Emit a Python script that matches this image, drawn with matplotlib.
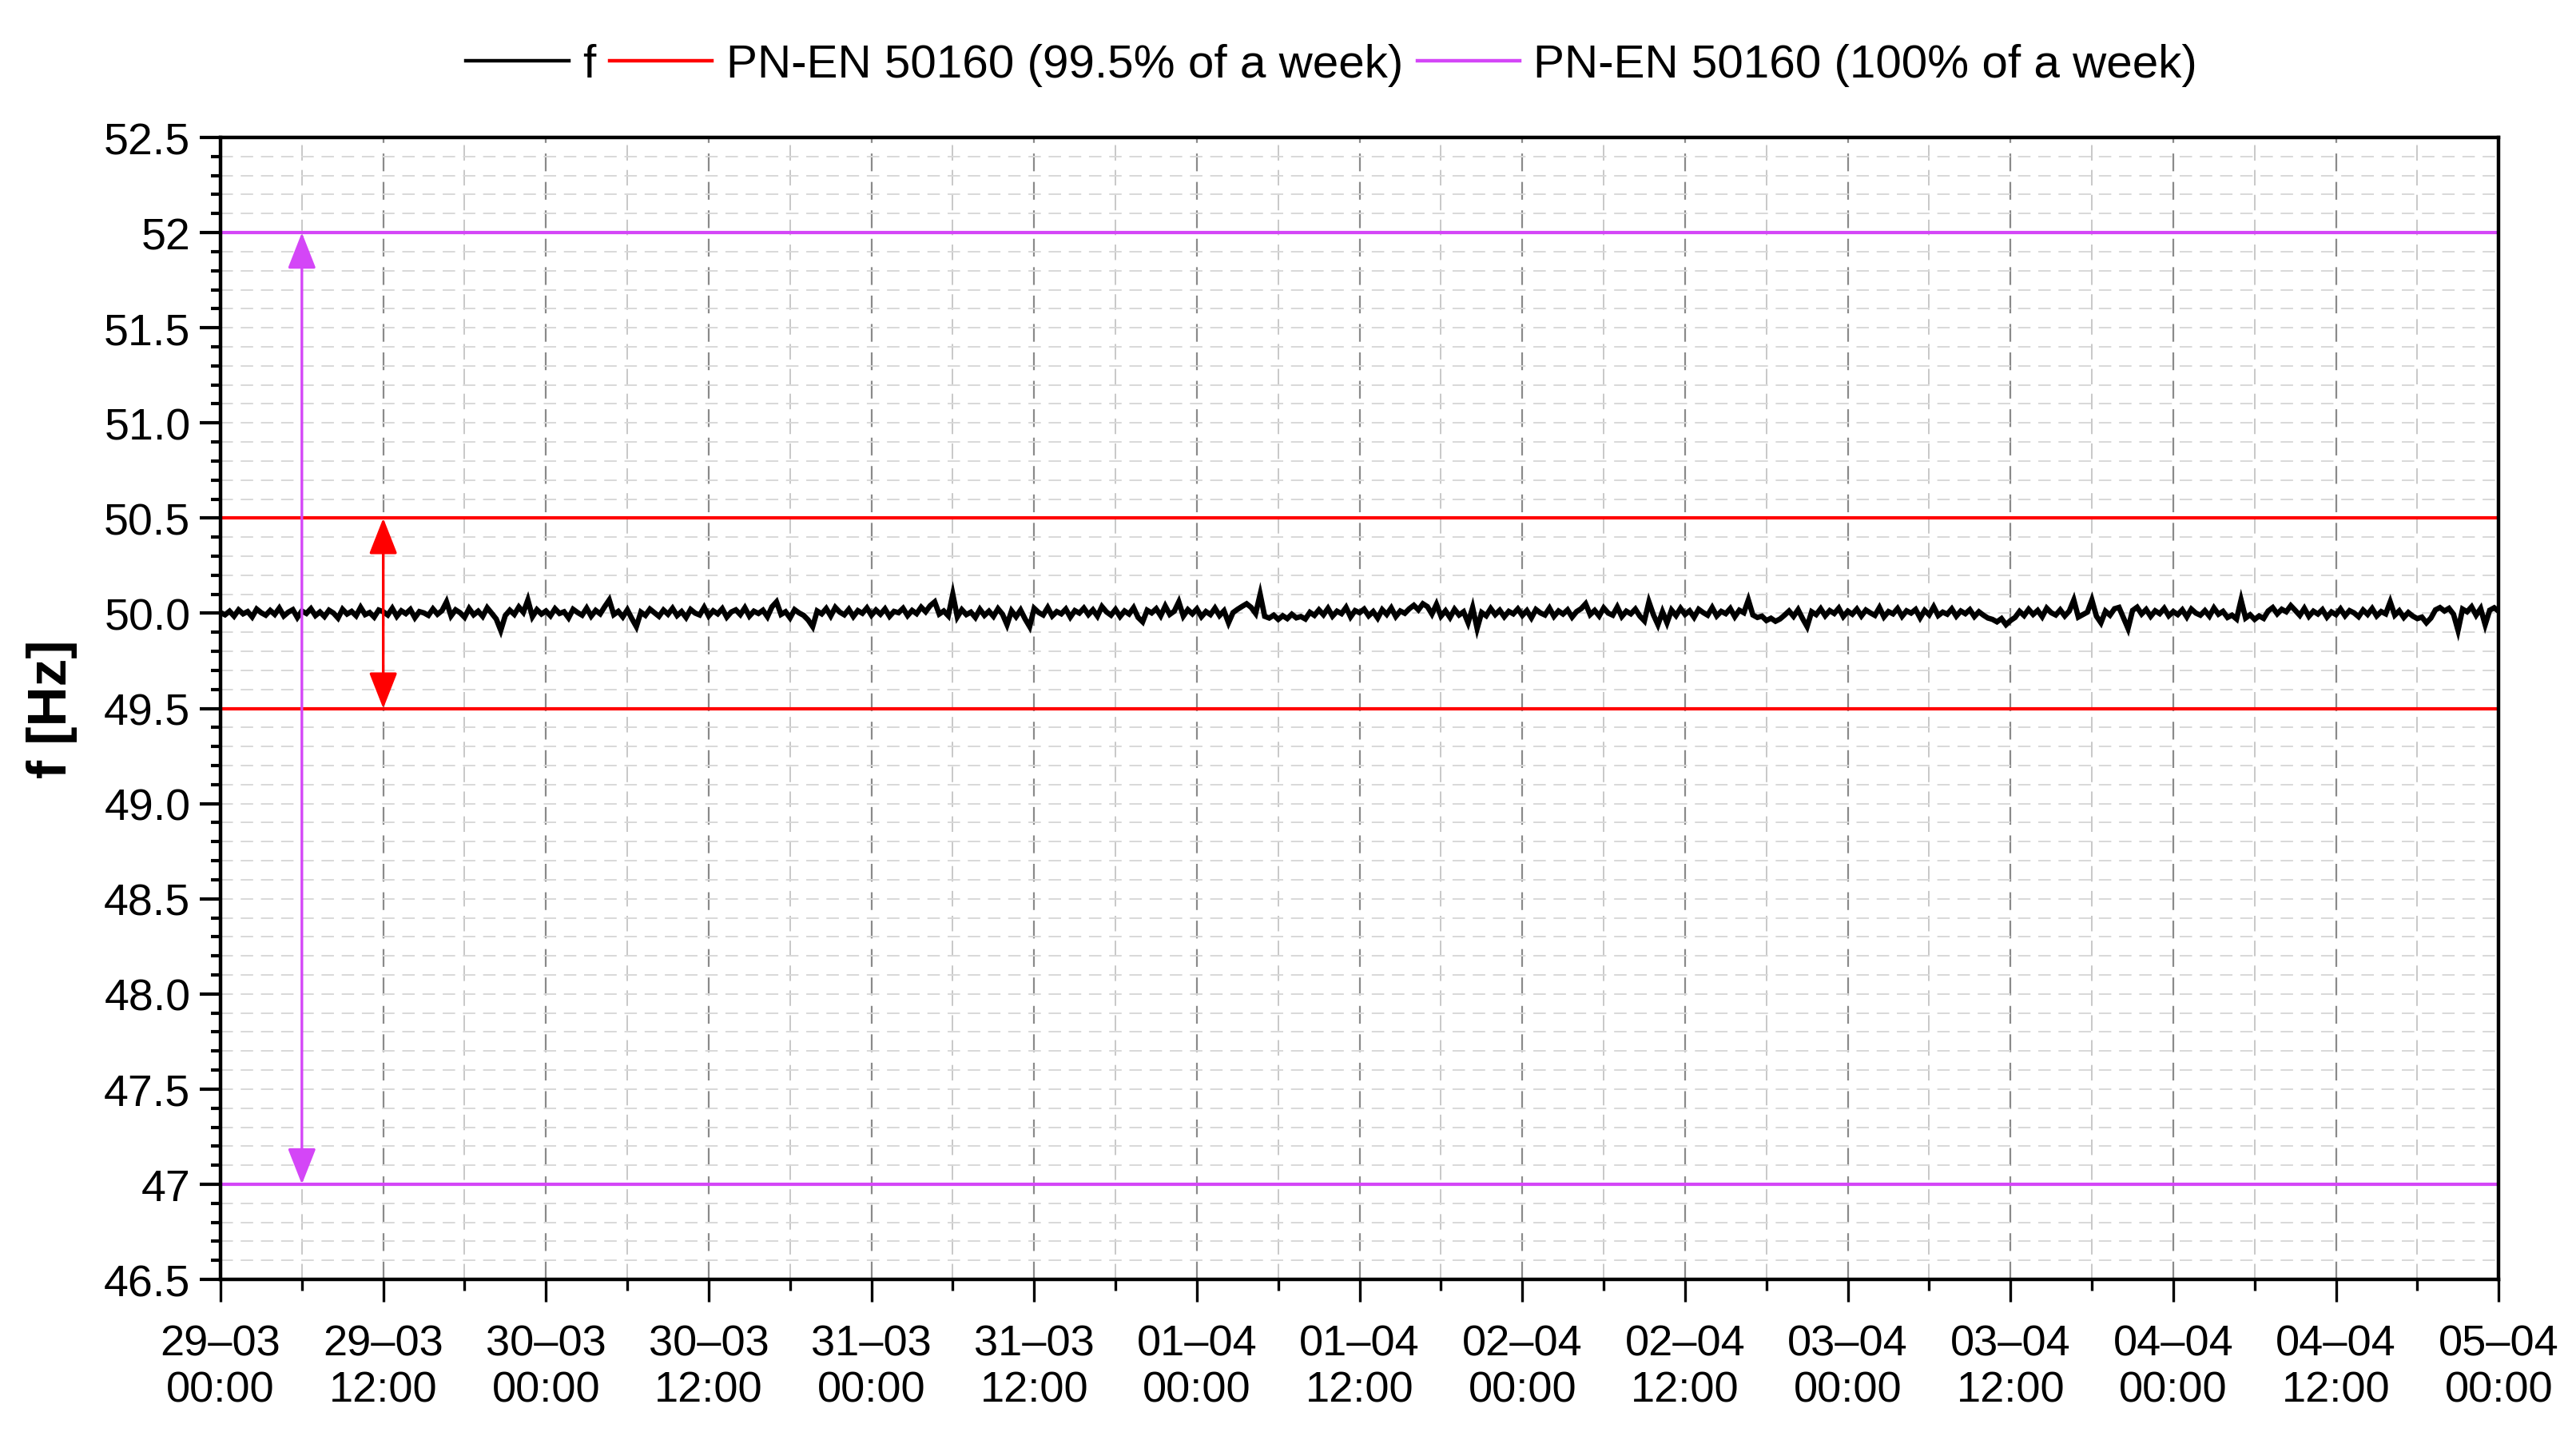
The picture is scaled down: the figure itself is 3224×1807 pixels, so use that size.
import numpy as np
import pandas as pd
import matplotlib
matplotlib.use("Agg")
import matplotlib.pyplot as plt
import matplotlib.dates as mdates
from matplotlib.ticker import FixedLocator, MultipleLocator

# ---------------- data ----------------
# grid-frequency readings, one every 20 minutes, 29-03 00:00 .. 05-04 00:00  [Hz]
freq_hz = [
    50.004, 49.992, 50.011, 49.985, 50.018, 49.997, 50.009, 49.981, 50.022, 50.003, 49.990, 50.015,
    49.994, 50.027, 49.986, 50.006, 50.019, 49.978, 50.012, 49.999, 50.024, 49.988, 50.007, 49.983,
    50.016, 50.001, 49.975, 50.021, 49.996, 50.010, 49.987, 50.031, 49.993, 50.004, 49.980, 50.017,
    50.008, 49.991, 50.026, 49.984, 50.013, 49.998, 50.020, 49.977, 50.009, 50.002, 49.989, 50.023,
    49.995, 50.014, 50.060, 49.986, 50.018, 50.003, 49.979, 50.025, 49.992, 50.011, 49.984, 50.029,
    50.000, 49.970, 49.910, 49.988, 50.016, 49.994, 50.033, 50.005, 50.070, 49.982, 50.019, 49.996,
    50.012, 49.987, 50.024, 49.999, 50.008, 49.976, 50.021, 50.004, 49.990, 50.027, 49.985, 50.015,
    49.997, 50.035, 50.070, 49.993, 50.010, 49.981, 50.018, 49.972, 49.930, 50.006, 49.989, 50.022,
    50.003, 49.984, 50.017, 49.995, 50.026, 49.988, 50.009, 49.978, 50.020, 50.001, 49.991, 50.031,
    49.986, 50.013, 49.997, 50.024, 49.980, 50.007, 50.018, 49.993, 50.029, 49.985, 50.011, 49.999,
    50.016, 49.982, 50.034, 50.060, 49.994, 50.008, 49.976, 50.019, 50.002, 49.989, 49.965, 49.930,
    50.012, 49.997, 50.025, 49.986, 50.031, 50.006, 49.992, 50.021, 49.983, 50.014, 50.000, 50.028,
    49.990, 50.017, 49.995, 50.023, 49.984, 50.010, 50.003, 50.026, 49.988, 50.015, 49.998, 50.032,
    50.008, 50.040, 50.060, 49.996, 50.012, 49.987, 50.100, 49.981, 50.019, 49.993, 50.006, 49.978,
    50.021, 49.989, 50.011, 49.984, 50.024, 49.995, 49.940, 50.013, 49.982, 50.017, 49.970, 49.930,
    50.026, 50.004, 49.991, 50.030, 49.986, 50.009, 49.997, 50.022, 49.980, 50.014, 50.001, 50.027,
    49.993, 50.018, 49.985, 50.035, 50.007, 49.990, 50.020, 49.983, 50.012, 49.996, 50.029, 49.978,
    49.955, 50.016, 50.002, 50.024, 49.987, 50.038, 49.994, 50.011, 50.060, 49.985, 50.019, 49.997,
    50.023, 49.982, 50.009, 49.993, 50.027, 49.988, 50.013, 49.950, 50.004, 50.021, 50.036, 50.050,
    50.031, 49.999, 50.100, 49.984, 49.975, 49.990, 49.968, 49.987, 49.972, 49.995, 49.976, 49.983,
    49.970, 50.005, 49.989, 50.018, 49.992, 50.026, 49.985, 50.011, 49.998, 50.031, 49.981, 50.014,
    50.003, 50.022, 49.987, 50.009, 49.975, 50.019, 49.994, 50.028, 49.983, 50.012, 50.000, 50.024,
    50.042, 50.018, 50.050, 50.035, 49.996, 50.047, 49.985, 50.013, 49.978, 50.021, 49.991, 50.008,
    49.950, 50.030, 49.920, 50.004, 49.987, 50.025, 49.993, 50.016, 49.982, 50.010, 49.997, 50.023,
    49.989, 50.014, 49.976, 50.020, 50.002, 49.991, 50.027, 49.984, 50.012, 49.996, 50.018, 49.980,
    50.009, 50.024, 50.050, 49.993, 50.015, 49.986, 50.028, 50.001, 49.990, 50.033, 49.983, 50.011,
    49.997, 50.022, 49.985, 49.960, 50.060, 49.992, 49.940, 50.008, 49.950, 50.017, 49.988, 50.026,
    49.994, 50.013, 49.979, 50.021, 50.004, 49.990, 50.030, 49.986, 50.010, 49.998, 50.025, 49.982,
    50.016, 50.003, 50.070, 49.991, 49.978, 49.985, 49.962, 49.974, 49.958, 49.970, 49.990, 50.012,
    49.984, 50.019, 49.972, 49.930, 50.008, 49.993, 50.024, 49.987, 50.014, 49.999, 50.027, 49.983,
    50.011, 49.995, 50.022, 49.986, 50.017, 50.002, 49.989, 50.030, 49.981, 50.009, 49.997, 50.025,
    49.984, 50.013, 50.001, 50.020, 49.976, 50.015, 49.992, 50.034, 49.988, 50.006, 49.995, 50.023,
    49.985, 50.012, 49.998, 50.019, 49.983, 50.008, 49.990, 49.975, 49.968, 49.955, 49.972, 49.940,
    49.962, 49.978, 50.010, 49.988, 50.021, 49.994, 50.015, 49.982, 50.027, 50.003, 49.991, 50.018,
    49.986, 50.012, 50.070, 49.980, 49.993, 50.006, 50.070, 49.985, 49.950, 50.011, 49.990, 50.024,
    50.031, 49.975, 49.920, 50.015, 50.032, 49.996, 50.020, 49.984, 50.013, 49.998, 50.026, 49.987,
    50.009, 49.993, 50.018, 49.981, 50.022, 50.001, 49.990, 50.014, 49.985, 50.028, 49.995, 50.010,
    49.978, 49.990, 49.970, 50.070, 49.975, 49.992, 49.968, 49.986, 49.973, 50.012, 50.030, 49.997,
    50.021, 50.008, 50.040, 50.015, 49.989, 50.026, 49.984, 50.011, 49.996, 50.019, 49.980, 50.007,
    49.993, 50.023, 49.987, 50.014, 50.002, 49.982, 50.017, 49.994, 50.025, 49.986, 50.009, 49.997,
    50.060, 49.990, 50.013, 49.978, 50.004, 49.985, 49.972, 49.980, 49.950, 49.975, 50.018, 50.030,
    50.012, 50.026, 49.995, 49.910, 50.022, 50.008, 50.034, 49.990, 50.025, 49.940, 50.016, 50.029,
    50.010,
]
sample_minutes = 20
start_time = "2023-03-29 00:00"
end_time = "2023-04-05 00:00"

# PN-EN 50160 limits
limit_995 = [49.5, 50.5]     # 99.5 % of a week
limit_100 = [47.0, 52.0]     # 100 % of a week
arrow_100_time = "2023-03-29 06:00"
arrow_995_time = "2023-03-29 12:00"

legend_labels = ["f", "PN-EN 50160 (99.5% of a week)", "PN-EN 50160 (100% of a week)"]
y_label = "f [Hz]"
y_ticks = [46.5, 47.0, 47.5, 48.0, 48.5, 49.0, 49.5, 50.0, 50.5, 51.0, 51.5, 52.0, 52.5]
y_tick_labels = ["46.5", "47", "47.5", "48.0", "48.5", "49.0", "49.5", "50.0",
                 "50.5", "51.0", "51.5", "52", "52.5"]
x_tick_labels = ["29–03\n00:00", "29–03\n12:00", "30–03\n00:00", "30–03\n12:00",
                 "31–03\n00:00", "31–03\n12:00", "01–04\n00:00", "01–04\n12:00",
                 "02–04\n00:00", "02–04\n12:00", "03–04\n00:00", "03–04\n12:00",
                 "04–04\n00:00", "04–04\n12:00", "05–04\n00:00"]

# ---------------- styling ----------------
FONT = ["Liberation Sans Narrow", "Liberation Sans", "DejaVu Sans"]
plt.rcParams["font.family"] = FONT
RED = "#ff0000"
MAGENTA = "#d446f7"

times = pd.Timestamp(start_time) + pd.to_timedelta(np.arange(len(freq_hz)) * sample_minutes, unit="min")

fig = plt.figure(figsize=(16.12, 9.04), dpi=200)
ax = fig.add_axes([0.0856, 0.1139, 0.8844, 0.7904])

# grid
ax.grid(which="minor", axis="y", color="#d8d8d8", lw=0.7, linestyle=(0, (8, 5)), zorder=0)
ax.grid(which="major", axis="y", color="#d8d8d8", lw=0.7, linestyle=(0, (8, 5)), zorder=0)
ax.grid(which="major", axis="x", color="#8a8a8a", lw=0.8, linestyle=(0, (10, 6)), zorder=0)
ax.grid(which="minor", axis="x", color="#c8c8c8", lw=0.7, linestyle=(0, (10, 6)), zorder=0)

# signal
ax.plot(times, freq_hz, color="black", lw=2.4, solid_joinstyle="miter", label=legend_labels[0], zorder=3)

# limits
ax.axhline(limit_995[1], color=RED, lw=1.5, label=legend_labels[1], zorder=2)
ax.axhline(limit_995[0], color=RED, lw=1.5, zorder=2)
ax.axhline(limit_100[1], color=MAGENTA, lw=1.5, label=legend_labels[2], zorder=2)
ax.axhline(limit_100[0], color=MAGENTA, lw=1.5, zorder=2)

# double arrows
for t, lims, col in [(arrow_100_time, limit_100, MAGENTA), (arrow_995_time, limit_995, RED)]:
    xt = mdates.date2num(pd.Timestamp(t))
    ax.annotate("", xy=(xt, lims[1]), xytext=(xt, lims[0]),
                arrowprops=dict(arrowstyle="<|-|>,head_length=1.4,head_width=0.55",
                                mutation_scale=10, color=col, lw=1.2,
                                shrinkA=0, shrinkB=0),
                zorder=5)

# axes
ax.set_xlim(pd.Timestamp(start_time), pd.Timestamp(end_time))
ax.set_ylim(y_ticks[0], y_ticks[-1])
ax.yaxis.set_major_locator(FixedLocator(y_ticks))
ax.set_yticklabels(y_tick_labels)
ax.yaxis.set_minor_locator(MultipleLocator(0.1))

xt_major = pd.date_range(start_time, end_time, freq="12h")
xt_minor = pd.date_range(start_time, end_time, freq="6h")
ax.xaxis.set_major_locator(FixedLocator(mdates.date2num(xt_major)))
ax.xaxis.set_minor_locator(FixedLocator(mdates.date2num(xt_minor)))
ax.set_xticklabels(x_tick_labels)

ax.tick_params(axis="y", which="major", direction="out", length=9.5, width=1.5,
               labelsize=20, pad=4, left=True, right=False)
ax.tick_params(axis="y", which="minor", direction="out", length=4.5, width=1.5,
               left=True, right=False)
ax.tick_params(axis="x", which="major", direction="out", length=10, width=1.2,
               labelsize=19.5, pad=10, bottom=True, top=False)
ax.tick_params(axis="x", which="minor", direction="out", length=5, width=1.2,
               bottom=True, top=False)
for lbl in ax.get_xticklabels():
    lbl.set_linespacing(1.2)

for sp in ax.spines.values():
    sp.set_color("black")
    sp.set_linewidth(1.6)

ax.set_ylabel(y_label, fontsize=25, fontweight="bold", family=["Liberation Sans", "DejaVu Sans"], labelpad=12)

leg = fig.legend(loc="center", bbox_to_anchor=(0.517, 0.9546), ncol=3, frameon=False,
                 fontsize=21, handlelength=2.2, handletextpad=0.3, columnspacing=0.3,
                 borderaxespad=0)
for h in leg.get_lines():
    h.set_linewidth(1.6)

fig.savefig("out.png", dpi=200)
